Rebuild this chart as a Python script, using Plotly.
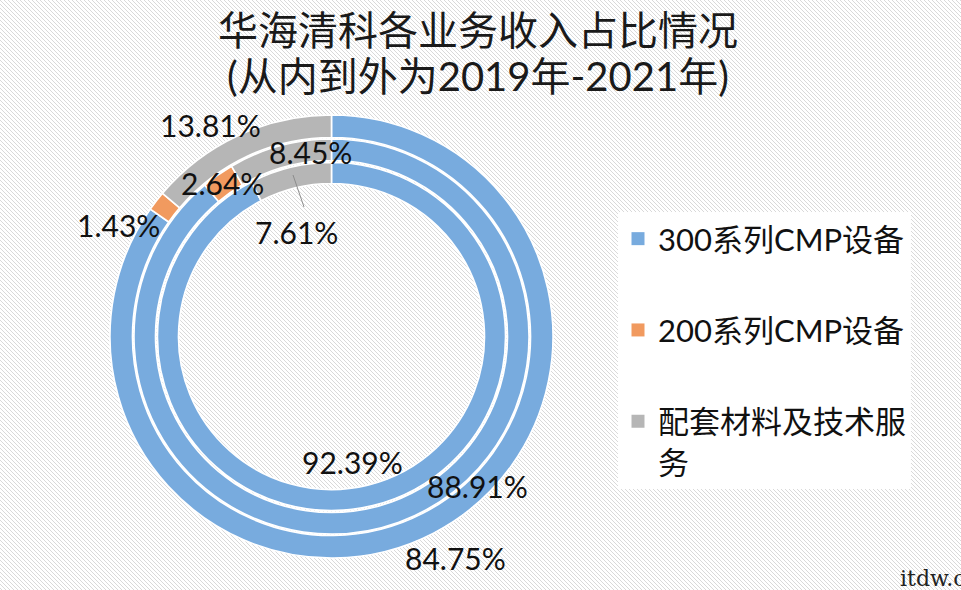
import base64
import plotly.graph_objects as go

# ---------------- data ----------------
categories = ["300系列CMP设备", "200系列CMP设备", "配套材料及技术服务"]
legend_names = ["300系列CMP设备", "200系列CMP设备", "配套材料及技术服<br>务"]
years = ["2019年", "2020年", "2021年"]
share_2019 = [92.39, 0.0, 7.61]
share_2020 = [88.91, 2.64, 8.45]
share_2021 = [84.75, 1.43, 13.81]
title_line1 = "华海清科各业务收入占比情况"
title_line2 = "(从内到外为2019年-2021年)"

colors = ["#78abde", "#f19a5f", "#b6b6b6"]

W, H = 961, 590
FONT = "Lato, 'Noto Sans CJK SC', sans-serif"

# ring geometry (pixels): centre and outer/inner radii
cx, cy = 331.5, 336.5
rings = [  # (values, outer radius, inner radius)
    (share_2019, 174, 153),
    (share_2020, 197.5, 176),
    (share_2021, 221.5, 199),
]


def px_x(x):
    return x / W


def px_y(y):
    return 1 - y / H


fig = go.Figure()
for (vals, r_out, r_in), yr in zip(rings, years):
    fig.add_trace(go.Pie(
        labels=categories,
        values=vals,
        name=yr,
        sort=False,
        direction="clockwise",
        rotation=0,
        hole=r_in / r_out,
        textinfo="none",
        hoverinfo="label+percent+name",
        marker=dict(colors=colors, line=dict(color="white", width=1.6)),
        domain=dict(x=[px_x(cx - r_out), px_x(cx + r_out)],
                    y=[px_y(cy + r_out), px_y(cy - r_out)]),
        showlegend=False,
    ))

# legend entries (one per category, separate groups for spacing)
for i, (cat, nm) in enumerate(zip(categories, legend_names)):
    fig.add_trace(go.Scatter(
        x=[None], y=[None], mode="markers", name=nm,
        legendgroup=f"g{i}",
        marker=dict(symbol="square", size=13, color=colors[i]),
        hoverinfo="skip",
    ))

# data labels (text positions)
label_pos = {
    ("2021年", 0): (455, 558), ("2021年", 1): (118, 225), ("2021年", 2): (210, 125),
    ("2020年", 0): (477, 486), ("2020年", 1): (222, 183), ("2020年", 2): (310, 152),
    ("2019年", 0): (352, 462), ("2019年", 2): (296, 232),
}
all_vals = {"2019年": share_2019, "2020年": share_2020, "2021年": share_2021}
annotations = []
for (yr, idx), (x, y) in label_pos.items():
    annotations.append(dict(
        x=px_x(x), y=px_y(y), xref="paper", yref="paper",
        text=f"{all_vals[yr][idx]:.2f}%", showarrow=False,
        font=dict(family=FONT, size=30, color="#111111"),
        xanchor="center", yanchor="middle",
    ))

# title (two lines)
for txt, ty in ((title_line1, 30), (title_line2, 76)):
    annotations.append(dict(
        x=px_x(478), y=px_y(ty), xref="paper", yref="paper", text=txt,
        showarrow=False, xanchor="center", yanchor="middle",
        font=dict(family=FONT, size=40, color="#1a1a1a"),
    ))

# watermark
annotations.append(dict(
    x=px_x(898), y=px_y(578), xref="paper", yref="paper", text="itdw.cn",
    showarrow=False, xanchor="left", yanchor="middle",
    font=dict(family="'DejaVu Serif', serif", size=22, color="#222222"),
))

# background hatch
svg = (
    f"<svg xmlns='http://www.w3.org/2000/svg' width='{W}' height='{H}'>"
    "<defs><pattern id='h' width='4' height='4' patternUnits='userSpaceOnUse'>"
    "<rect width='4' height='4' fill='#ffffff'/>"
    "<path d='M-1,-1 L5,5 M-1,3 L1,5 M3,-1 L5,1' stroke='#d9d9d9' stroke-width='1'/>"
    "</pattern></defs><rect width='100%' height='100%' fill='url(#h)'/></svg>"
)
bg_src = "data:image/svg+xml;base64," + base64.b64encode(svg.encode()).decode()

fig.update_layout(
    width=W, height=H,
    margin=dict(l=0, r=0, t=0, b=0),
    paper_bgcolor="white",
    plot_bgcolor="rgba(0,0,0,0)",
    xaxis=dict(visible=False), yaxis=dict(visible=False),
    legend=dict(
        x=px_x(618), y=px_y(212), xanchor="left", yanchor="top",
        bgcolor="white", borderwidth=0,
        font=dict(family=FONT, size=31, color="#111111"),
        tracegroupgap=48, valign="top", itemwidth=30,
    ),
    annotations=annotations,
    shapes=[dict(type="line", xref="paper", yref="paper",
                 x0=px_x(293), y0=px_y(175), x1=px_x(304), y1=px_y(207),
                 line=dict(color="#8c8c8c", width=1))],
    images=[dict(source=bg_src, xref="paper", yref="paper", x=0, y=1,
                 sizex=1, sizey=1, sizing="stretch", layer="below")],
)

fig.write_html(
    "out.html",
    config={"displayModeBar": False},
    post_script="document.body.style.margin='0';document.body.style.overflow='hidden';",
)
